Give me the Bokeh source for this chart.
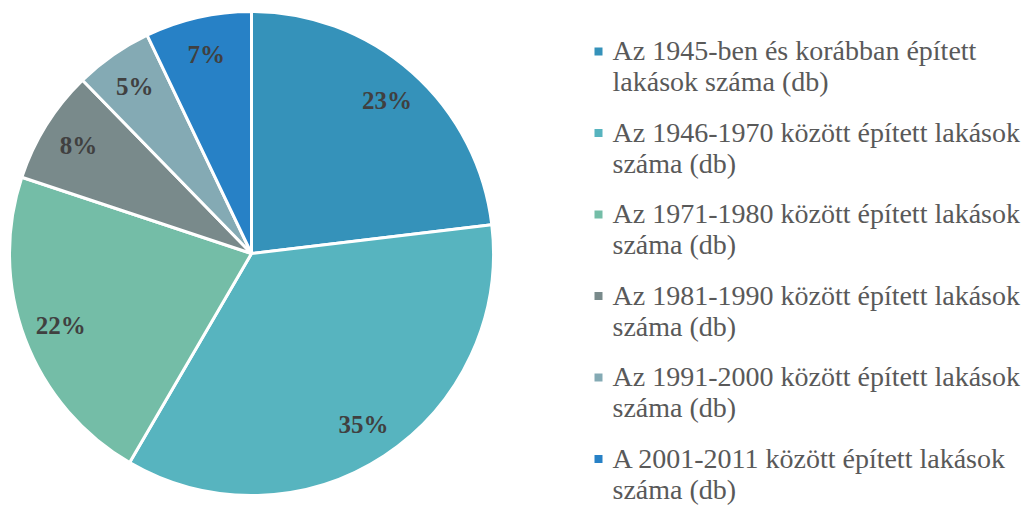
import math
from bokeh.plotting import figure
from bokeh.models import Range1d, ColumnDataSource
from bokeh.core.properties import value
from bokeh.embed import file_html
from bokeh.resources import INLINE

# ---- data ----
categories = [
    "Az 1945-ben és korábban épített lakások száma (db)",
    "Az 1946-1970 között épített lakások száma (db)",
    "Az 1971-1980 között épített lakások száma (db)",
    "Az 1981-1990 között épített lakások száma (db)",
    "Az 1991-2000 között épített lakások száma (db)",
    "A 2001-2011 között épített lakások száma (db)",
]
legend_line1 = [
    "Az 1945-ben és korábban épített",
    "Az 1946-1970 között épített lakások",
    "Az 1971-1980 között épített lakások",
    "Az 1981-1990 között épített lakások",
    "Az 1991-2000 között épített lakások",
    "A 2001-2011 között épített lakások",
]
legend_line2 = [
    "lakások száma (db)",
    "száma (db)",
    "száma (db)",
    "száma (db)",
    "száma (db)",
    "száma (db)",
]
shares = [23.1, 35.3, 21.7, 7.6, 5.2, 7.1]
colors = ["#3592BA", "#57B4BF", "#74BDA7", "#798A8B", "#84AAB4", "#2781C6"]

# ---- layout ----
W, H = 1027, 506
IMG_H = 506
p = figure(width=W, height=H, x_range=Range1d(0, W),
           y_range=Range1d(0, H),
           output_backend="svg", toolbar_location=None, min_border=0)
p.axis.visible = False
p.grid.visible = False
p.outline_line_color = None
p.background_fill_color = "white"
p.border_fill_color = "white"

cx, cy, R = 251, IMG_H - 253, 242
total = sum(shares)
starts, ends, lx, ly, labels = [], [], [], [], []
c = 0.0
for v in shares:
    a0 = math.pi / 2 - 2 * math.pi * c / total
    a1 = math.pi / 2 - 2 * math.pi * (c + v) / total
    starts.append(a0)
    ends.append(a1)
    mid = (a0 + a1) / 2
    lx.append(cx + 204 * math.cos(mid))
    ly.append(cy + 204 * math.sin(mid))
    labels.append(f"{round(100 * v / total)}%")
    c += v

src = ColumnDataSource(dict(start=starts, end=ends, color=colors))
p.wedge(x=cx, y=cy, radius=R, start_angle="start", end_angle="end",
        direction="clock", fill_color="color", line_color="white",
        line_width=3, source=src)

p.text(x=lx, y=ly, text=labels, text_font=value("Liberation Serif"),
       text_font_size="25px", text_font_style="bold", text_color="#404040",
       text_align="center", text_baseline="middle")

# legend
first_base = 50
pitch = 81.5
gap = 31
n = len(categories)
ys1 = [IMG_H - (first_base + i * pitch) for i in range(n)]
ys2 = [y - gap for y in ys1]
p.rect(x=[598] * n, y=[y - 1 for y in ys1], width=8, height=8,
       fill_color=colors, line_color=None)
p.text(x=[612] * n, y=ys1, text=legend_line1,
       text_font=value("Liberation Serif"), text_font_size="28px",
       text_color="#595959", text_align="left", text_baseline="alphabetic")
p.text(x=[612] * n, y=ys2, text=legend_line2,
       text_font=value("Liberation Serif"), text_font_size="28px",
       text_color="#595959", text_align="left", text_baseline="alphabetic")

open("out.html", "w").write(file_html(p, INLINE))
